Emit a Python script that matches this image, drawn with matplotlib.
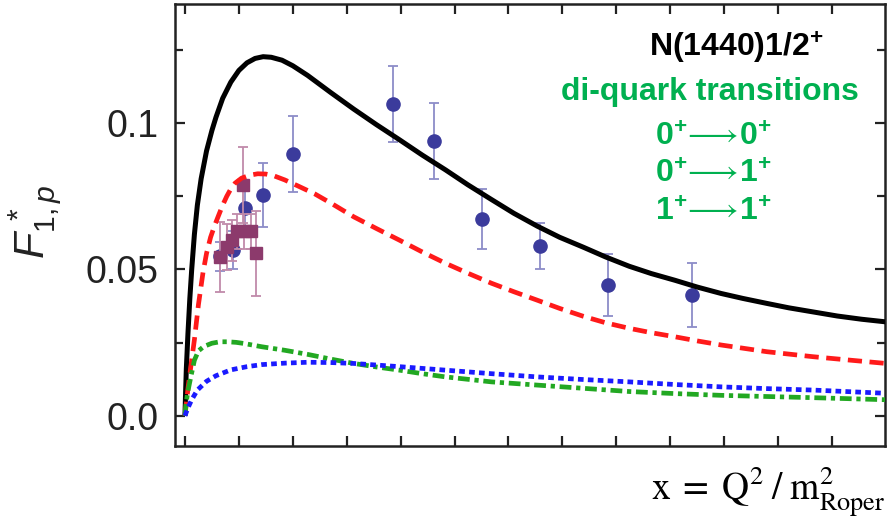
import matplotlib
matplotlib.use("Agg")
import matplotlib.pyplot as plt

# model curves (x = Q^2 / m_Roper^2)
x_total = [0, 0.002, 0.005, 0.011, 0.018, 0.025, 0.035, 0.046, 0.06, 0.08, 0.10, 0.115,
           0.14, 0.17, 0.20, 0.23, 0.26, 0.29, 0.32, 0.36, 0.40, 0.455,
           0.54, 0.626, 0.71, 0.796, 0.88, 0.967, 1.05, 1.137, 1.22, 1.307, 1.39, 1.478,
           1.56, 1.648, 1.73, 1.818, 1.90, 1.989, 2.07, 2.159, 2.24, 2.33, 2.42, 2.51, 2.60]
f_total = [0, 0.007, 0.016, 0.028, 0.040, 0.050, 0.062, 0.0720, 0.0810, 0.0905, 0.0975,
           0.1020, 0.1085, 0.1140, 0.1180, 0.1206, 0.1221, 0.1227, 0.1225, 0.1215, 0.1196,
           0.1163, 0.1105, 0.1048, 0.0995, 0.0943, 0.0891, 0.0840, 0.0789, 0.0739, 0.0692,
           0.0648, 0.0610, 0.0576, 0.0543, 0.0511, 0.0486, 0.0463, 0.0440, 0.0418, 0.0401,
           0.0384, 0.0369, 0.0355, 0.0341, 0.0330, 0.0321]

x_00 = [0, 0.006, 0.012, 0.022, 0.035, 0.05, 0.067, 0.08, 0.095, 0.11, 0.124, 0.14, 0.155,
        0.17, 0.186, 0.21, 0.24, 0.27, 0.30, 0.33, 0.37, 0.42, 0.482,
        0.55, 0.626, 0.71, 0.796, 0.88, 0.967, 1.05, 1.137, 1.22, 1.307, 1.39, 1.478, 1.56,
        1.648, 1.73, 1.818, 1.90, 1.989, 2.159, 2.33, 2.47, 2.60]
f_00 = [0, 0.005, 0.010, 0.017, 0.026, 0.038, 0.049, 0.0555, 0.0610, 0.0650, 0.0683, 0.0720,
        0.0750, 0.0775, 0.0795, 0.0812, 0.0822, 0.0827, 0.0826, 0.0820, 0.0806, 0.0785,
        0.0758, 0.0722, 0.0680, 0.0640, 0.0600, 0.0560, 0.0521, 0.0487, 0.0453, 0.0424,
        0.0395, 0.0367, 0.0340, 0.0318, 0.0299, 0.0284, 0.0270, 0.0256, 0.0242, 0.0219,
        0.0202, 0.0190, 0.0179]

x_01 = [0, 0.004, 0.01, 0.021, 0.035, 0.05, 0.07, 0.10, 0.13, 0.157, 0.19, 0.22, 0.285,
        0.37, 0.455, 0.54, 0.626, 0.71, 0.796, 0.88, 0.967, 1.137, 1.307, 1.478, 1.648,
        1.818, 1.989, 2.159, 2.33, 2.60]
f_01 = [0, 0.004, 0.008, 0.013, 0.019, 0.0222, 0.0237, 0.0248, 0.0253, 0.0253, 0.0251,
        0.0247, 0.0236, 0.0224, 0.0210, 0.0194, 0.0179, 0.0167, 0.0156, 0.0144, 0.0133,
        0.0116, 0.0105, 0.0094, 0.0083, 0.0076, 0.0070, 0.0066, 0.0062, 0.0055]

x_11 = [0, 0.01, 0.025, 0.046, 0.08, 0.115, 0.17, 0.23, 0.285, 0.37, 0.455, 0.54, 0.626,
        0.796, 0.967, 1.137, 1.307, 1.478, 1.648, 1.818, 1.989, 2.159, 2.33, 2.60]
f_11 = [0, 0.0025, 0.0055, 0.0088, 0.0118, 0.0137, 0.0157, 0.0168, 0.0175, 0.0180, 0.0183,
        0.0182, 0.0179, 0.0168, 0.0156, 0.0144, 0.0133, 0.0124, 0.0116, 0.0107, 0.0099,
        0.0093, 0.0088, 0.0077]

# data points
circ_x = [0.130, 0.179, 0.223, 0.291, 0.402, 0.773, 0.925, 1.101, 1.317, 1.571, 1.880]
circ_f = [0.0545, 0.0566, 0.0709, 0.0754, 0.0894, 0.1065, 0.0939, 0.0672, 0.0580, 0.0447, 0.0412]
circ_err = [0.005, 0.0065, 0.006, 0.011, 0.013, 0.013, 0.013, 0.0103, 0.008, 0.0105, 0.011]

sq_x = [0.130, 0.155, 0.175, 0.193, 0.219, 0.245, 0.216, 0.262]
sq_f = [0.0542, 0.0577, 0.0600, 0.0630, 0.0630, 0.0630, 0.0789, 0.0555]
sq_err = [0.012, 0.008, 0.007, 0.006, 0.006, 0.006, 0.013, 0.0145]

x_ticks = [0, 0.2, 0.4, 0.6, 0.8, 1.0, 1.2, 1.4, 1.6, 1.8, 2.0, 2.2, 2.4]
y_ticks = [0.0, 0.05, 0.1]
y_ticklabels = ["0.0", "0.05", "0.1"]
y_minor = [0.025, 0.075, 0.125]

plt.rcParams["font.family"] = ["Liberation Sans", "DejaVu Sans"]
plt.rcParams["mathtext.fontset"] = "custom"
plt.rcParams["mathtext.rm"] = "Liberation Sans"
plt.rcParams["mathtext.it"] = "Liberation Sans:italic"
plt.rcParams["mathtext.bf"] = "Liberation Sans:bold"

fig = plt.figure(figsize=(8.91, 5.19), dpi=100)
ax = fig.add_axes([0.1964, 0.1407, 0.7969, 0.8516])

# data
ax.errorbar(circ_x, circ_f, yerr=circ_err, fmt="o", ms=9.5, color="#3b3b9c",
            ecolor="#8c8cc8", elinewidth=1.3, capsize=3.5, capthick=1.3, zorder=2)
ax.errorbar(sq_x, sq_f, yerr=sq_err, fmt="s", ms=9, color="#8c3a6c",
            ecolor="#c08aaa", elinewidth=1.3, capsize=3.5, capthick=1.3, zorder=3)

# curves
ax.plot(x_total, f_total, color="black", lw=3.6, solid_capstyle="butt", zorder=4)
ax.plot(x_00, f_00, color="#ff1a1a", lw=3.4, dashes=(3.0, 1.6), zorder=4)
ax.plot(x_01, f_01, color="#22a822", lw=3.4, dashes=(2.5, 1.0, 0.9, 1.0), zorder=4)
ax.plot(x_11, f_11, color="#1a1aff", lw=3.4, dashes=(1.2, 0.9), zorder=4)

ax.set_xlim(-0.037, 2.597)
ax.set_ylim(-0.0103, 0.1407)
ax.set_xticks(x_ticks)
ax.set_xticklabels([])
ax.set_yticks(y_ticks)
ax.set_yticklabels(y_ticklabels)
ax.set_yticks(y_minor, minor=True)
ax.tick_params(which="both", direction="in", top=True, right=True, width=1.6,
               color="#222222")
ax.tick_params(which="major", length=7, labelsize=27, pad=12, labelcolor="#222222")
ax.tick_params(which="minor", length=6)
for s in ax.spines.values():
    s.set_linewidth(1.8)
    s.set_color("#222222")

# annotations
ax.text(0.790, 0.900, r"N(1440)1/2$^{\mathbf{+}}$", transform=ax.transAxes, fontsize=23,
        fontweight="bold", ha="center", va="center", color="black")
green = "#00b050"
ax.text(0.753, 0.800, "di-quark transitions", transform=ax.transAxes, fontsize=23,
        fontweight="bold", ha="center", va="center", color=green)
for lbl, yy in [(r"$\mathbf{0^{+}}\!\longrightarrow\!\mathbf{0^{+}}$", 0.697),
                (r"$\mathbf{0^{+}}\!\longrightarrow\!\mathbf{1^{+}}$", 0.613),
                (r"$\mathbf{1^{+}}\!\longrightarrow\!\mathbf{1^{+}}$", 0.527)]:
    ax.text(0.758, yy, lbl, transform=ax.transAxes, fontsize=23,
            ha="center", va="center", color=green)

fig.text(0.040, 0.572, r"$F^{\,*}_{\mathrm{1},p}$", rotation=90, fontsize=31,
         ha="center", va="center", color="#222222")
fig.text(0.994, 0.036, r"$\mathrm{x\;=\;Q^{2}\;/\;m^{2}_{Roper}}$", fontsize=27,
         ha="right", va="baseline", math_fontfamily="stix")

fig.savefig("out.png", dpi=100)
